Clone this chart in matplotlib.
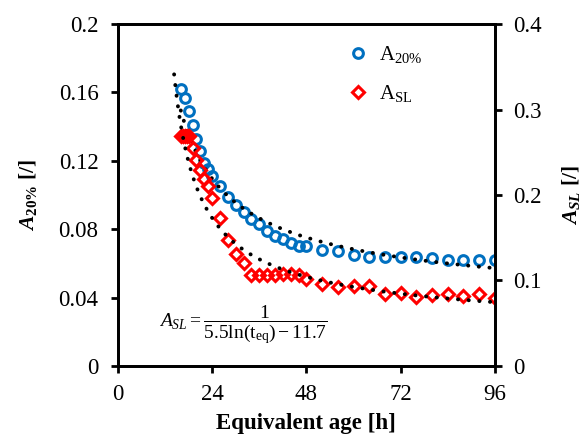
import numpy as np
import matplotlib.pyplot as plt

plt.rcParams["font.family"] = ["Liberation Serif", "DejaVu Serif"]
plt.rcParams["mathtext.fontset"] = "custom"
plt.rcParams["mathtext.rm"] = "Liberation Serif"
plt.rcParams["mathtext.it"] = "Liberation Serif:italic"
plt.rcParams["mathtext.bf"] = "Liberation Serif:bold"
plt.rcParams["mathtext.bfit"] = "Liberation Serif:bold:italic"

# A20% (left axis)
t_a20 = [16, 17, 18, 19, 20, 21, 22, 23, 24, 26, 28, 30, 32, 34, 36, 38, 40,
         42, 44, 46, 48, 52, 56, 60, 64, 68, 72, 76, 80, 84, 88, 92, 96]
a20 = [0.162, 0.157, 0.149, 0.141, 0.133, 0.126, 0.119, 0.115, 0.111, 0.105,
       0.099, 0.094, 0.090, 0.086, 0.083, 0.079, 0.076, 0.074, 0.072, 0.070,
       0.070, 0.068, 0.067, 0.065, 0.064, 0.064, 0.064, 0.064, 0.063, 0.062,
       0.062, 0.062, 0.062]

# ASL (right axis)
t_asl = [16, 16.5, 17, 17.5, 18, 19, 20, 21, 22, 23, 24, 26, 28, 30, 32, 34,
         36, 38, 40, 42, 44, 46, 48, 52, 56, 60, 64, 68, 72, 76, 80, 84, 88,
         92, 96]
asl = [0.269, 0.269, 0.269, 0.269, 0.269, 0.255, 0.241, 0.229, 0.219, 0.210,
       0.196, 0.173, 0.147, 0.131, 0.121, 0.107, 0.106, 0.106, 0.107, 0.108,
       0.108, 0.106, 0.102, 0.096, 0.092, 0.093, 0.093, 0.084, 0.085, 0.081,
       0.083, 0.084, 0.082, 0.084, 0.080]

# trendlines: 1/(a ln t - b)
fit_a20 = (6.02, 10.0)
fit_asl = (5.5, 11.7)
t_fit_a20 = np.linspace(16, 96, 400)
t_fit_asl = np.linspace(14.3, 96, 400)

fig = plt.figure(figsize=(5.87, 4.37), dpi=100)
ax = fig.add_axes([0.201, 0.1625, 0.642, 0.7825])
ax2 = ax.twinx()

dots = dict(color="black", lw=2.8, linestyle=(0, (0.05, 2.7)),
            dash_capstyle="round")

ax.plot(t_a20, a20, "o", ls="none", mfc="none", mec="#0070c0", mew=2.2,
        ms=7, label=r"A$_{20\%}$")
ax.plot(t_fit_a20, 1 / (fit_a20[0] * np.log(t_fit_a20) - fit_a20[1]), **dots)

ax2.plot(t_asl, asl, "D", ls="none", mfc="none", mec="#ff0000", mew=2.2,
         ms=6.5, label=r"A$_{\mathrm{SL}}$")
ax2.plot(t_fit_asl, 1 / (fit_asl[0] * np.log(t_fit_asl) - fit_asl[1]), **dots)

ax.set_xlim(0, 96)
ax.set_ylim(0, 0.2)
ax2.set_ylim(0, 0.4)
ax.set_xticks([0, 24, 48, 72, 96])
ax.set_yticks([0, 0.04, 0.08, 0.12, 0.16, 0.2])
ax.set_yticklabels(["0", "0.04", "0.08", "0.12", "0.16", "0.2"])
ax2.set_yticks([0, 0.1, 0.2, 0.3, 0.4])
ax2.set_yticklabels(["0", "0.1", "0.2", "0.3", "0.4"])

for a in (ax, ax2):
    for s in a.spines.values():
        s.set_linewidth(2)
    a.tick_params(direction="out", length=5, width=2, labelsize=16.5,
                  colors="black")
ax.tick_params(axis="x", pad=8)
ax.tick_params(axis="y", pad=9)
ax2.tick_params(axis="y", pad=8)

ax.set_xlabel("Equivalent age [h]", fontsize=16.5, fontweight="bold",
              labelpad=6)
ax.set_ylabel(r"$\mathbfit{A}_{\mathbf{20\%}}$ [/]", fontsize=15.5,
              fontweight="bold", labelpad=14)
ax2.set_ylabel(r"$\mathbfit{A}_{\mathbfit{SL}}$ [/]", fontsize=15.5,
               fontweight="bold", labelpad=13)

h1, l1 = ax.get_legend_handles_labels()
h2, l2 = ax2.get_legend_handles_labels()
leg = ax2.legend(h1 + h2, l1 + l2, loc="upper left",
                 bbox_to_anchor=(0.565, 0.995), frameon=False, fontsize=15,
                 handlelength=0.8, handletextpad=0.6, labelspacing=0.85)

ax.text(0.11, 0.12,
        r"$A_{SL}=\dfrac{1}{5.5\ln(\mathrm{t}_{\mathrm{eq}})-11.7}$",
        transform=ax.transAxes, fontsize=14, va="center", ha="left")

fig.savefig("out.png", dpi=100)
